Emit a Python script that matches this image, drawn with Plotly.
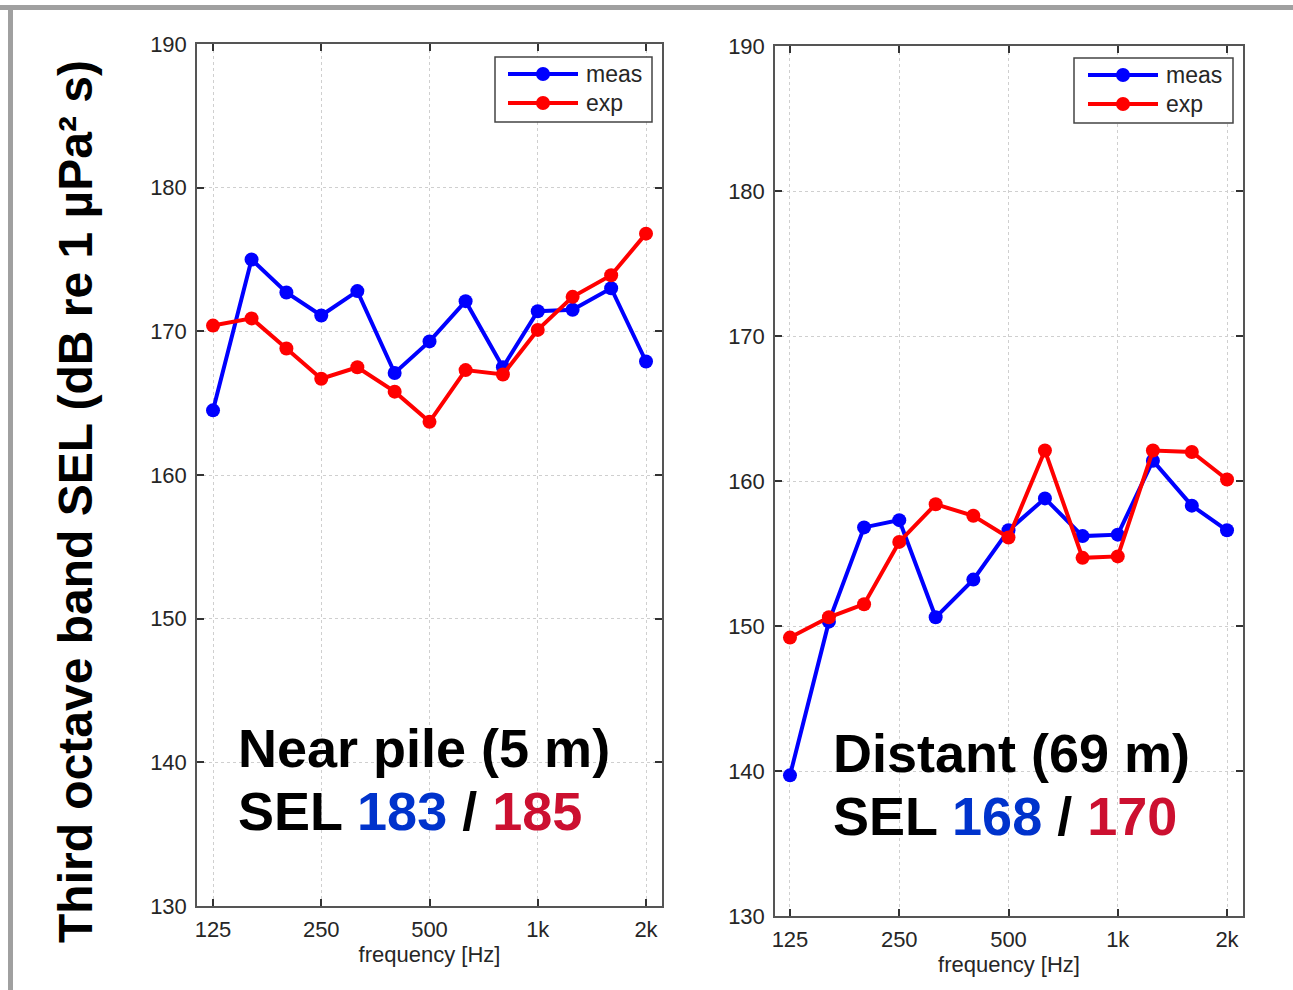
import plotly.graph_objects as go

freqs = [125, 160, 200, 250, 315, 400, 500, 630, 800, 1000, 1250, 1600, 2000]
near_meas = [164.5, 175.0, 172.7, 171.1, 172.8, 167.1, 169.3, 172.1, 167.5, 171.4, 171.5, 173.0, 167.9]
near_exp = [170.4, 170.9, 168.8, 166.7, 167.5, 165.8, 163.7, 167.3, 167.0, 170.1, 172.4, 173.9, 176.8]
far_meas = [139.7, 150.3, 156.8, 157.3, 150.6, 153.2, 156.6, 158.8, 156.2, 156.3, 161.4, 158.3, 156.6]
far_exp = [149.2, 150.6, 151.5, 155.8, 158.4, 157.6, 156.1, 162.1, 154.7, 154.8, 162.1, 162.0, 160.1]
xtick_vals = [125, 250, 500, 1000, 2000]
xtick_text = ["125", "250", "500", "1k", "2k"]
ytick_vals = [130, 140, 150, 160, 170, 180, 190]
series_names = ["meas", "exp"]

W, H = 1293, 990
BLUE = "#0000FF"
RED = "#FF0000"
FONT = "Liberation Sans, Arial, sans-serif"
TXT = "#262626"

fig = go.Figure()

def add(x, y, name, color, xa, ya):
    fig.add_trace(go.Scatter(
        x=x, y=y, name=name, mode="lines+markers",
        line=dict(color=color, width=4),
        marker=dict(color=color, size=14),
        xaxis=xa, yaxis=ya, showlegend=False))

add(freqs, near_meas, series_names[0], BLUE, "x", "y")
add(freqs, near_exp, series_names[1], RED, "x", "y")
add(freqs, far_meas, series_names[0], BLUE, "x2", "y2")
add(freqs, far_exp, series_names[1], RED, "x2", "y2")

def px_x(p):
    return p / W

def px_y(p):
    return 1 - p / H

xcommon = dict(type="log", tickvals=xtick_vals, ticktext=xtick_text,
               showgrid=True, gridcolor="#cfcfcf", griddash="dot", gridwidth=1,
               showline=True, linecolor="#555555", linewidth=1.5, mirror="ticks",
               ticks="inside", ticklen=7, tickcolor="#333333", tickwidth=1.5,
               tickfont=dict(family=FONT, size=22, color=TXT),
               title=dict(text="frequency [Hz]", font=dict(family=FONT, size=22, color=TXT), standoff=4),
               zeroline=False, automargin=False, ticklabelstandoff=3)
ycommon = dict(range=[130, 190], tickvals=ytick_vals,
               showgrid=True, gridcolor="#cfcfcf", griddash="dot", gridwidth=1,
               showline=True, linecolor="#555555", linewidth=1.5, mirror="ticks",
               ticks="inside", ticklen=7, tickcolor="#333333", tickwidth=1.5,
               tickfont=dict(family=FONT, size=22, color=TXT),
               zeroline=False, automargin=False, ticklabelstandoff=4)

fig.update_layout(
    width=W, height=H,
    margin=dict(l=0, r=0, t=0, b=0),
    paper_bgcolor="white", plot_bgcolor="white",
    font=dict(family=FONT, color=TXT),
    xaxis=dict(xcommon, domain=[px_x(197), px_x(662)], range=[2.0524, 3.3455], anchor="y"),
    yaxis=dict(ycommon, domain=[px_y(906), px_y(44)], anchor="x"),
    xaxis2=dict(xcommon, domain=[px_x(775), px_x(1243)], range=[2.0556, 3.3451], anchor="y2"),
    yaxis2=dict(ycommon, domain=[px_y(916), px_y(46)], anchor="x2"),
    showlegend=False,
)

# slide border (top and left)
fig.add_shape(type="line", xref="paper", yref="paper", x0=0, x1=1, y0=px_y(7.5), y1=px_y(7.5),
              line=dict(color="#a0a0a0", width=5))
fig.add_shape(type="line", xref="paper", yref="paper", x0=px_x(10.5), x1=px_x(10.5), y0=0, y1=px_y(5),
              line=dict(color="#a0a0a0", width=5))

# legends (MATLAB style boxes)
def legend_box(x0, y0, x1, y1, lx0, lx1, ys, tx):
    fig.add_shape(type="rect", xref="paper", yref="paper",
                  x0=px_x(x0), x1=px_x(x1), y0=px_y(y1), y1=px_y(y0),
                  line=dict(color="#444444", width=1.5), fillcolor="white", layer="above")
    for name, color, yy in zip(series_names, [BLUE, RED], ys):
        fig.add_shape(type="line", xref="paper", yref="paper",
                      x0=px_x(lx0), x1=px_x(lx1), y0=px_y(yy), y1=px_y(yy),
                      line=dict(color=color, width=4), layer="above")
        cx = (lx0 + lx1) / 2
        fig.add_shape(type="circle", xref="paper", yref="paper",
                      x0=px_x(cx - 7), x1=px_x(cx + 7), y0=px_y(yy + 7), y1=px_y(yy - 7),
                      line=dict(color=color, width=0), fillcolor=color, layer="above")
        fig.add_annotation(xref="paper", yref="paper", x=px_x(tx), y=px_y(yy), text=name,
                           showarrow=False, xanchor="left", yanchor="middle",
                           font=dict(family=FONT, size=23, color=TXT))

legend_box(495, 57, 652, 122, 508, 578, [74, 103], 584)
legend_box(1074, 58, 1233, 123, 1088, 1158, [75, 104], 1164)

SBLUE = "#0033CC"
SRED = "#CC1030"

def note(x, y, text, size=54, angle=0, xanchor="left"):
    fig.add_annotation(xref="paper", yref="paper", x=px_x(x), y=px_y(y), text=text,
                       showarrow=False, xanchor=xanchor, yanchor="middle", textangle=angle,
                       font=dict(family=FONT, size=size, color="black"))

note(236, 748, "<b>Near pile (5 m)</b>")
note(236, 811, f"<b>SEL <span style='color:{SBLUE}'>183</span> / <span style='color:{SRED}'>185</span></b>")
note(831, 753, "<b>Distant (69 m)</b>")
note(831, 816, f"<b>SEL <span style='color:{SBLUE}'>168</span> / <span style='color:{SRED}'>170</span></b>")
note(75, 502, "<b>Third octave band SEL (dB re 1 µPa² s)</b>", size=48, angle=-90, xanchor="center")

fig.write_html("out.html", post_script="document.body.style.margin='0';",
               config={"displayModeBar": False})
